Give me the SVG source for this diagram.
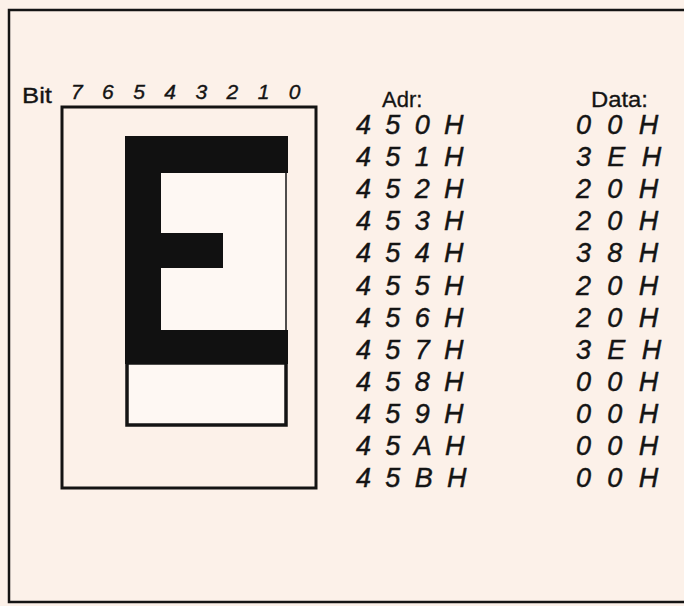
<svg xmlns="http://www.w3.org/2000/svg" width="684" height="606" viewBox="0 0 684 606">
<style>
.lbl{font-family:"Liberation Sans","DejaVu Sans",sans-serif;font-size:22px;fill:#141414;stroke:#141414;stroke-width:0.3px}
.hw{font-family:"Liberation Sans","DejaVu Sans",sans-serif;font-style:italic;font-size:27px;fill:#141414;stroke:#141414;stroke-width:0.45px;white-space:pre}
.bits{font-family:"Liberation Sans","DejaVu Sans",sans-serif;font-style:italic;font-size:21px;fill:#141414;stroke:#141414;stroke-width:0.4px;letter-spacing:6.8px;white-space:pre}
.adr{letter-spacing:3.4px}
.dat{letter-spacing:4.4px}
.ln{fill:none;stroke:#141414;stroke-linejoin:miter}
</style>
<rect x="0" y="0" width="684" height="606" fill="#fcf1e9"/>
<g id="frame">
<path class="ln" d="M684,10 H9 V602 H684" stroke-width="2.5"/>
</g>
<g id="bit-labels">
<text class="lbl" x="22" y="103" textLength="30" lengthAdjust="spacingAndGlyphs">Bit</text>
<text class="bits" x="71" y="99">7 6 5 4 3 2 1 0</text>
</g>
<g id="glyph-grid">
<rect class="ln" x="62" y="107" width="254" height="381" stroke-width="3"/>
<rect x="126" y="137" width="161" height="288" fill="#fef8f3"/>
<path class="ln" d="M286,173 V330" stroke-width="1.5"/>
<rect class="ln" x="127" y="363" width="159" height="62" stroke-width="3.5"/>
<path d="M125,136 H288 V173 H161 V233 H223 V268 H161 V330 H288 V364 H125 Z" fill="#111"/>
</g>
<g id="adr-column">
<text class="lbl" x="382" y="107">Adr:</text>
<text class="hw adr" x="356" y="134">4 5 0 H</text>
<text class="hw adr" x="356" y="166">4 5 1 H</text>
<text class="hw adr" x="356" y="198">4 5 2 H</text>
<text class="hw adr" x="356" y="230">4 5 3 H</text>
<text class="hw adr" x="356" y="262">4 5 4 H</text>
<text class="hw adr" x="356" y="295">4 5 5 H</text>
<text class="hw adr" x="356" y="327">4 5 6 H</text>
<text class="hw adr" x="356" y="359">4 5 7 H</text>
<text class="hw adr" x="356" y="391">4 5 8 H</text>
<text class="hw adr" x="356" y="423">4 5 9 H</text>
<text class="hw adr" x="356" y="455">4 5 A H</text>
<text class="hw adr" x="356" y="487">4 5 B H</text>
</g>
<g id="data-column">
<text class="lbl" x="591" y="107" textLength="57" lengthAdjust="spacingAndGlyphs">Data:</text>
<text class="hw dat" x="576" y="134">0 0 H</text>
<text class="hw dat" x="576" y="166">3 E H</text>
<text class="hw dat" x="576" y="198">2 0 H</text>
<text class="hw dat" x="576" y="230">2 0 H</text>
<text class="hw dat" x="576" y="262">3 8 H</text>
<text class="hw dat" x="576" y="295">2 0 H</text>
<text class="hw dat" x="576" y="327">2 0 H</text>
<text class="hw dat" x="576" y="359">3 E H</text>
<text class="hw dat" x="576" y="391">0 0 H</text>
<text class="hw dat" x="576" y="423">0 0 H</text>
<text class="hw dat" x="576" y="455">0 0 H</text>
<text class="hw dat" x="576" y="487">0 0 H</text>
</g>
<g id="connectors"/>
</svg>
